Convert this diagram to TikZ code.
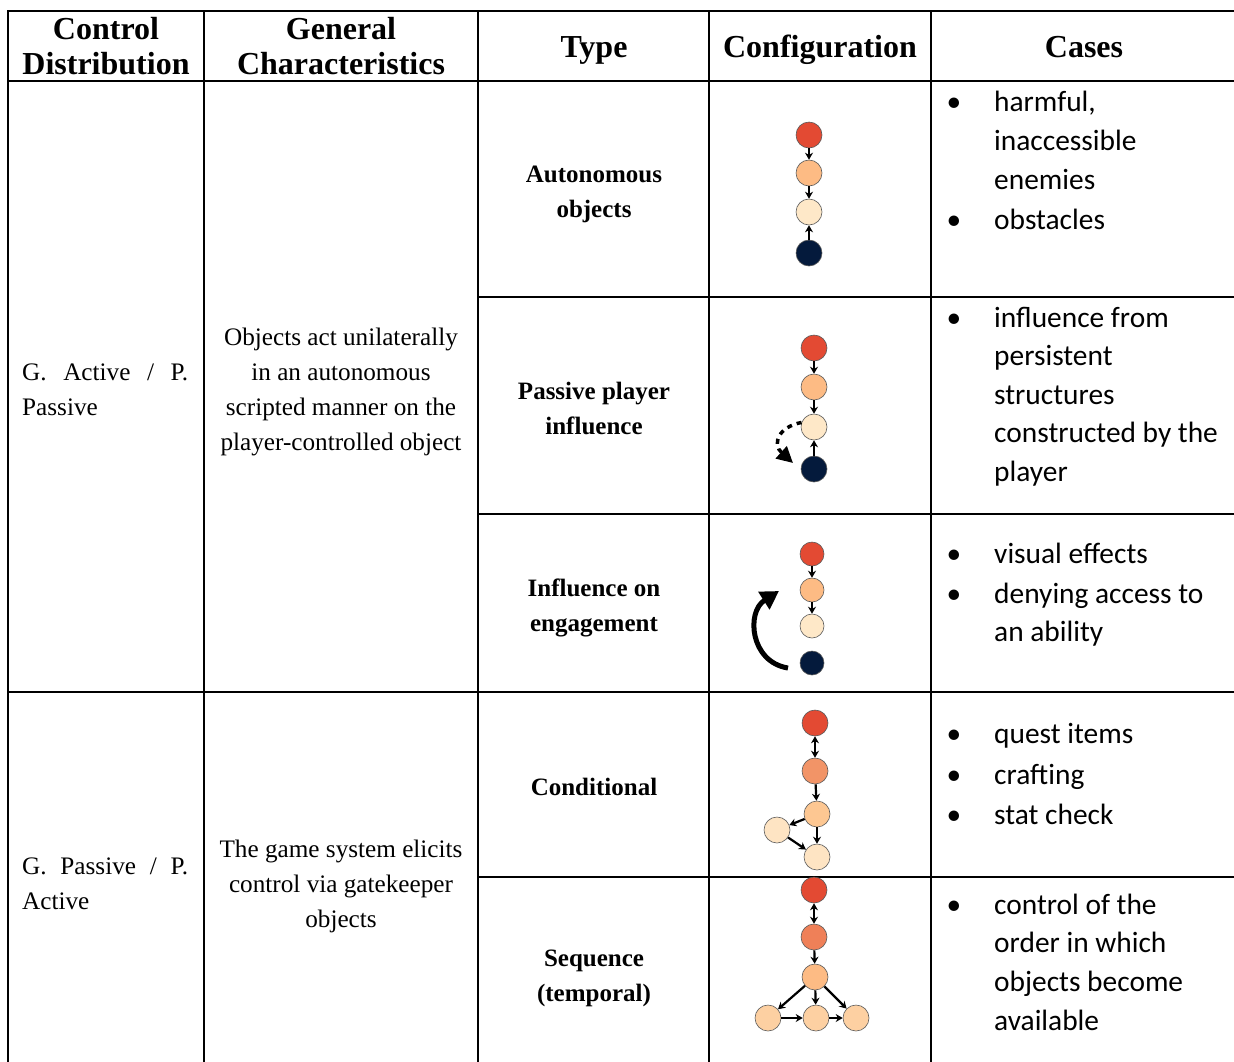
\documentclass[tikz,border=0pt]{standalone}
\usepackage{fontspec}
\setmainfont{Liberation Serif}
\newfontfamily\casefont{Carlito}
\usetikzlibrary{arrows.meta}

\definecolor{cRed}{HTML}{E34A33}
\definecolor{cOrange}{HTML}{FDBB84}
\definecolor{cCream}{HTML}{FEE8C8}
\definecolor{cNavy}{HTML}{041A3C}
\definecolor{cSalmon}{HTML}{F29467}
\definecolor{cPeach}{HTML}{FDC792}
\definecolor{cPale}{HTML}{FEE4C3}
\definecolor{cCoral}{HTML}{EF8058}
\definecolor{cApricot}{HTML}{FDD0A2}

\tikzset{
  grid/.style={line width=2.2pt, line cap=rect},
  head/.style={font=\fontsize{32}{35}\selectfont\bfseries, align=center, inner sep=0pt},
  body/.style={font=\fontsize{25.2}{35}\selectfont, align=center, inner sep=0pt},
  typebox/.style={font=\fontsize{25}{35}\selectfont\bfseries, align=center, inner sep=0pt},
  caseline/.style={font=\casefont\fontsize{29.4}{39}\selectfont, anchor=base west, inner sep=0pt},
  bullet/.style={font=\casefont\fontsize{29.4}{39}\selectfont, anchor=base, inner sep=0pt},
  dot/.style={circle, draw=black!65, line width=0.6pt, minimum size=26pt, inner sep=0pt},
  link/.style={line width=2.2pt, -{Stealth[length=7pt,width=8pt]}},
  duplex/.style={line width=2.2pt, {Stealth[length=7pt,width=8pt]}-{Stealth[length=7pt,width=8pt]}},
}

\begin{document}
\begin{tikzpicture}[x=1pt,y=-1pt]
\useasboundingbox (0,0) rectangle (1234,1061);

% ---- table rules ----
\draw[grid] (8,11) -- (1234,11);
\draw[grid] (8,81) -- (1234,81);
\draw[grid] (478,297) -- (1234,297);
\draw[grid] (478,514) -- (1234,514);
\draw[grid] (8,692) -- (1234,692);
\draw[grid] (478,877) -- (1234,877);
\foreach \xx in {8,204,478,709,931}
  \draw[grid] (\xx,11) -- (\xx,1061);

% ---- header ----
\node[head] (h1) at (106,46) {Control\\Distribution};
\node[head] (h2) at (341,46) {General\\Characteristics};
\node[head, anchor=base] (h3) at (594,57) {Type};
\node[head, anchor=base] (h4) at (820,57) {Configuration};
\node[head, anchor=base] (h5) at (1084,57) {Cases};

% ---- control distribution ----
\node[body, text width=166pt, align=left, anchor=north west] (d1) at (22,364)
  {G.\hfill Active\hfill /\hfill P.\\Passive};
\node[body, text width=166pt, align=left, anchor=north west] (d2) at (22,858)
  {G.\hfill Passive\hfill /\hfill P.\\Active};

% ---- general characteristics ----
\node[body] (g1) at (341,392) {Objects act unilaterally\\in an autonomous\\scripted manner on the\\player-controlled object};
\node[body] (g2) at (341,886) {The game system elicits\\control via gatekeeper\\objects};

% ---- types ----
\node[typebox] (t1) at (594,194) {Autonomous\\objects};
\node[typebox] (t2) at (594,408) {Passive player\\influence};
\node[typebox] (t3) at (594,608) {Influence on\\engagement};
\node[typebox] (t4) at (594,787) {Conditional};
\node[typebox] (t5) at (594,978) {Sequence\\(temporal)};

% ---- cases ----
\foreach \yy/\txt/\mark in {
  111/{harmful,}/1, 150/{inaccessible}/0, 189/{enemies}/0, 229/{obstacles}/1,
  327/{influence from}/1, 365/{persistent}/0, 404/{structures}/0, 442/{constructed by the}/0, 481/{player}/0,
  563/{visual effects}/1, 603/{denying access to}/1, 641/{an ability}/0,
  743/{quest items}/1, 784/{crafting}/1, 824/{stat check}/1,
  914/{control of the}/1, 952/{order in which}/0, 991/{objects become}/0, 1030/{available}/0}
{
  \node[caseline] (case\yy) at (994,\yy) {\txt};
  \ifnum\mark=1 \node[bullet] (mark\yy) at (954,\yy) {•}; \fi
}

% ---- configuration 1: autonomous objects ----
\node[dot, fill=cRed]    (a1) at (809,135) {};
\node[dot, fill=cOrange] (a2) at (809,173) {};
\node[dot, fill=cCream]  (a3) at (809,212) {};
\node[dot, fill=cNavy]   (a4) at (809,253) {};
\draw[link] (a1) -- (a2);
\draw[link] (a2) -- (a3);
\draw[link] (a4) -- (a3);

% ---- configuration 2: passive player influence ----
\node[dot, fill=cRed]    (b1) at (814,348) {};
\node[dot, fill=cOrange] (b2) at (814,387) {};
\node[dot, fill=cCream]  (b3) at (814,427) {};
\node[dot, fill=cNavy]   (b4) at (814,469) {};
\draw[link] (b1) -- (b2);
\draw[link] (b2) -- (b3);
\draw[link] (b4) -- (b3);
\coordinate (bend) at (793,463);
\draw[line width=3.5pt, dash pattern=on 5pt off 5pt, -{Triangle[length=16pt,width=16pt]}]
  (b3.160) .. controls (778,427) and (772,444) .. (bend);

% ---- configuration 3: influence on engagement ----
\node[dot, fill=cRed,    minimum size=24pt] (e1) at (812,554) {};
\node[dot, fill=cOrange, minimum size=24pt] (e2) at (812,590) {};
\node[dot, fill=cCream,  minimum size=24pt] (e3) at (812,626) {};
\node[dot, fill=cNavy,   minimum size=24pt] (e4) at (812,663) {};
\draw[link] (e1) -- (e2);
\draw[link] (e2) -- (e3);
\coordinate (efrom) at (788,668);
\coordinate (eto) at (779,591);
\draw[line width=5pt, -{Triangle[length=18pt,width=20pt]}]
  (efrom) .. controls (750,662) and (746,612) .. (eto);

% ---- configuration 4: conditional ----
\node[dot, fill=cRed]    (k1) at (815,723) {};
\node[dot, fill=cSalmon] (k2) at (815,771) {};
\node[dot, fill=cPeach]  (k3) at (817,814) {};
\node[dot, fill=cPale]   (k4) at (777,830) {};
\node[dot, fill=cPale]   (k5) at (817,857) {};
\draw[duplex] (k1) -- (k2);
\draw[link] (k2) -- (k3);
\draw[link] (k3) -- (k4);
\draw[link] (k4) -- (k5);
\draw[link] (k3) -- (k5);

% ---- configuration 5: sequence ----
\node[dot, fill=cRed]      (s1) at (814,890) {};
\node[dot, fill=cCoral]    (s2) at (814,937) {};
\node[dot, fill=cOrange]   (s3) at (815,977) {};
\node[dot, fill=cApricot]  (s4) at (768,1018) {};
\node[dot, fill=cApricot]  (s5) at (816,1018) {};
\node[dot, fill=cApricot]  (s6) at (856,1018) {};
\draw[duplex] (s1) -- (s2);
\draw[link] (s2) -- (s3);
\draw[link] (s3) -- (s4);
\draw[link] (s3) -- (s5);
\draw[link] (s3) -- (s6);
\draw[link] (s4) -- (s5);
\draw[link] (s5) -- (s6);
\end{tikzpicture}
\end{document}
